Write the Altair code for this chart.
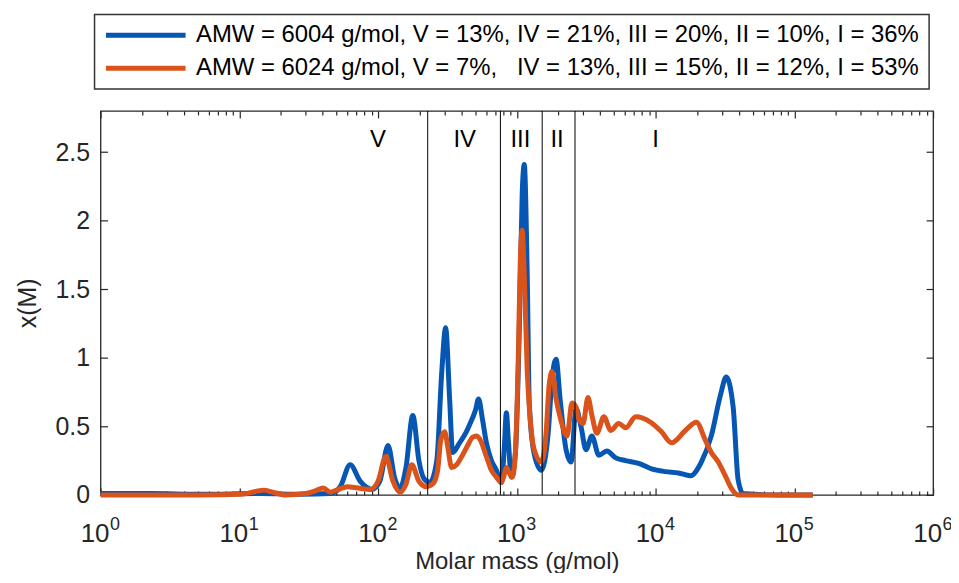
import altair as alt
import pandas as pd

F = "Liberation Sans"
INK = "#262626"

# ---- data ----
series_names = [
    "AMW = 6004 g/mol, V = 13%, IV = 21%, III = 20%, II = 10%, I = 36%",
    "AMW = 6024 g/mol, V = 7%,\u00a0\u00a0\u00a0IV = 13%, III = 15%, II = 12%, I = 53%",
]
series_colors = ["#0656b3", "#d9531a"]

blue_M = [1, 2.3, 5.3, 14.3, 27.6, 45.3, 53.4, 63.0, 74.3, 90.6, 103, 118, 132, 144, 159,
          178, 197, 214, 236, 265, 288, 307, 328, 345, 387, 428, 456, 504, 530, 566,
          604, 656, 713, 774, 813, 841, 869, 914, 976, 1042, 1094, 1132, 1189, 1230, 1334,
          1500, 1683, 1796, 1919, 2051, 2265, 2460, 2672, 2900, 3150, 3477, 3902, 4453, 5166, 6095,
          7551, 9355, 11800, 14620, 17830, 21370, 25200, 29230, 32290, 36240, 39360, 42750, 76200, 135800]
blue_x = [0.01, 0.01, 0.005, 0.01, 0.005, 0.01, 0.06, 0.22, 0.10, 0.04, 0.10, 0.36, 0.12, 0.05, 0.20,
          0.58, 0.25, 0.12, 0.09, 0.25, 0.90, 1.22, 0.70, 0.31, 0.38, 0.45, 0.51, 0.62, 0.70, 0.55,
          0.38, 0.25, 0.18, 0.09, 0.35, 0.60, 0.40, 0.13, 0.30, 1.2, 2.2, 2.41, 1.6, 0.67, 0.30,
          0.18, 0.45, 0.85, 0.99, 0.70, 0.33, 0.24, 0.63, 0.50, 0.33, 0.43, 0.29, 0.32, 0.27, 0.25,
          0.23, 0.19, 0.17, 0.16, 0.14, 0.24, 0.43, 0.72, 0.86, 0.64, 0.11, 0.01, 0.0, 0.0]

orange_M = [1, 5.3, 10.25, 13.1, 15.0, 17.4, 21.5, 30.0, 35.3, 40.3, 45.3, 51.7, 60.0, 71.9, 87.7,
            100, 114, 128, 144, 159, 175, 197, 224, 248, 269, 283, 302, 318, 339, 368,
            406, 442, 480, 513, 539, 604, 656, 713, 774, 813, 841, 883, 929, 976, 1025,
            1059, 1094, 1132, 1189, 1250, 1334, 1500, 1626, 1710, 1796, 1919, 2084, 2301, 2500, 2672,
            2805, 2999, 3258, 3477, 3777, 4239, 4757, 5429, 6095, 7191, 9204, 11040, 13030, 16410, 19690,
            22820, 25200, 28310, 31760, 35080, 39360, 76200, 135800]
orange_x = [0.0, 0.0, 0.005, 0.025, 0.035, 0.02, 0.0, 0.01, 0.03, 0.05, 0.02, 0.04, 0.06, 0.05, 0.04,
            0.10, 0.28, 0.10, 0.02, 0.08, 0.22, 0.10, 0.06, 0.08, 0.18, 0.40, 0.46, 0.35, 0.20, 0.22,
            0.29, 0.36, 0.42, 0.43, 0.41, 0.28, 0.18, 0.13, 0.09, 0.15, 0.20, 0.16, 0.13, 0.30, 1.0,
            1.7, 1.93, 1.6, 0.9, 0.55, 0.33, 0.24, 0.45, 0.80, 0.90, 0.70, 0.54, 0.43, 0.67, 0.64,
            0.55, 0.52, 0.71, 0.58, 0.45, 0.57, 0.47, 0.52, 0.49, 0.57, 0.53, 0.46, 0.38, 0.47, 0.53,
            0.40, 0.31, 0.24, 0.14, 0.05, 0.0, 0.0, 0.0]

region_bounds = [228, 762, 1524, 2627]
region_names = ["V", "IV", "III", "II", "I"]
region_label_M = [100, 421, 1060, 1950, 10000]
region_label_y = [2.59, 2.59, 2.59, 2.59, 2.59]

x_major = [1, 10, 100, 1000, 10000, 100000, 1000000]
x_minor = [k * 10 ** d for d in range(6) for k in range(2, 10)]
y_ticks = [0, 0.5, 1, 1.5, 2, 2.5]

# ---- tables ----
curve_df = pd.concat([
    pd.DataFrame({"M": blue_M, "x": blue_x, "series": series_names[0]}),
    pd.DataFrame({"M": orange_M, "x": orange_x, "series": series_names[1]}),
])
bounds_df = pd.DataFrame({"M": region_bounds})
labels_df = pd.DataFrame({"M": region_label_M, "y": region_label_y, "name": region_names})

xs = alt.Scale(type="log", domain=[1, 1e6], nice=False)
ys = alt.Scale(domain=[0, 2.8], nice=False, zero=False)

lines = alt.Chart(curve_df).mark_line(strokeWidth=5, interpolate="monotone").encode(
    x=alt.X("M:Q", scale=xs, axis=None),
    y=alt.Y("x:Q", scale=ys, axis=None),
    color=alt.Color(
        "series:N",
        scale=alt.Scale(domain=series_names, range=series_colors),
        legend=alt.Legend(
            title=None, orient="none", legendX=-6, legendY=-97, direction="vertical",
            symbolType="stroke", symbolSize=6400, symbolStrokeWidth=5,
            labelFontSize=24, labelFont=F, labelColor="#000", labelLimit=2000,
            labelOffset=8, clipHeight=24, rowPadding=9, padding=9,
            strokeColor="#333333", fillColor="white",
        ),
    ),
)

rules = alt.Chart(bounds_df).mark_rule(color="#000", strokeWidth=1).encode(
    x=alt.X("M:Q", scale=xs, axis=None)
)

texts = alt.Chart(labels_df).mark_text(fontSize=24, font=F, color="#000", baseline="middle").encode(
    x=alt.X("M:Q", scale=xs, axis=None),
    y=alt.Y("y:Q", scale=ys, axis=None),
    text="name:N",
)


def xlayer(values, **kw):
    base = dict(values=values, grid=False, domain=False, labelFlush=False, labelOverlap=False, title=None)
    base.update(kw)
    return alt.Chart(pd.DataFrame({"t": values})).mark_point(opacity=0).encode(
        x=alt.X("t:Q", scale=xs, axis=alt.Axis(**base))
    )


def ylayer(values, **kw):
    base = dict(values=values, grid=False, domain=False, labelFlush=False, labelOverlap=False, title=None)
    base.update(kw)
    return alt.Chart(pd.DataFrame({"t": values})).mark_point(opacity=0).encode(
        y=alt.Y("t:Q", scale=ys, axis=alt.Axis(**base))
    )


tick_style = dict(tickColor=INK, tickWidth=1.2, labels=False, ticks=True)

axes = [
    # bottom labels "10" + title
    xlayer(x_major, orient="bottom", ticks=False, labelExpr="'10'", labelFont=F, labelFontSize=26,
           labelColor=INK, labelOffset=-6, labelPadding=26,
           title="Molar mass (g/mol)", titleFont=F, titleFontSize=24, titleFontWeight="normal",
           titleColor=INK, titlePadding=3),
    # exponents
    xlayer(x_major, orient="bottom", ticks=False, labelExpr="round(log(datum.value)/LN10) + ''",
           labelFont=F, labelFontSize=18, labelColor=INK, labelOffset=14, labelPadding=21),
    # inward tick marks (axis pulled inside the frame by its own tick length)
    xlayer(x_major, orient="bottom", offset=-7, tickSize=7, **tick_style),
    xlayer(x_minor, orient="bottom", offset=-4, tickSize=4, **tick_style),
    xlayer(x_major, orient="top", offset=-7, tickSize=7, **tick_style),
    xlayer(x_minor, orient="top", offset=-4, tickSize=4, **tick_style),
    # y axis
    ylayer(y_ticks, orient="left", ticks=False, format="~g", labelFont=F, labelFontSize=25,
           labelColor=INK, labelPadding=11,
           title="x(M)", titleFont=F, titleFontSize=25, titleFontWeight="normal",
           titleColor=INK, titlePadding=15),
    ylayer(y_ticks, orient="left", offset=-7, tickSize=7, **tick_style),
    ylayer(y_ticks, orient="right", offset=-7, tickSize=7, **tick_style),
]

chart = alt.layer(lines, rules, texts, *axes).resolve_axis(
    x="independent", y="independent"
).properties(
    width=837, height=386,
    autosize=alt.AutoSizeParams(type="none"),
    padding={"left": 93, "top": 102, "right": 18, "bottom": 77},
).configure_view(
    stroke=INK, strokeWidth=1.3
).configure_legend(
    strokeWidth=1.5
)

chart.save("out.html", embed_options={"renderer": "svg", "actions": False})
